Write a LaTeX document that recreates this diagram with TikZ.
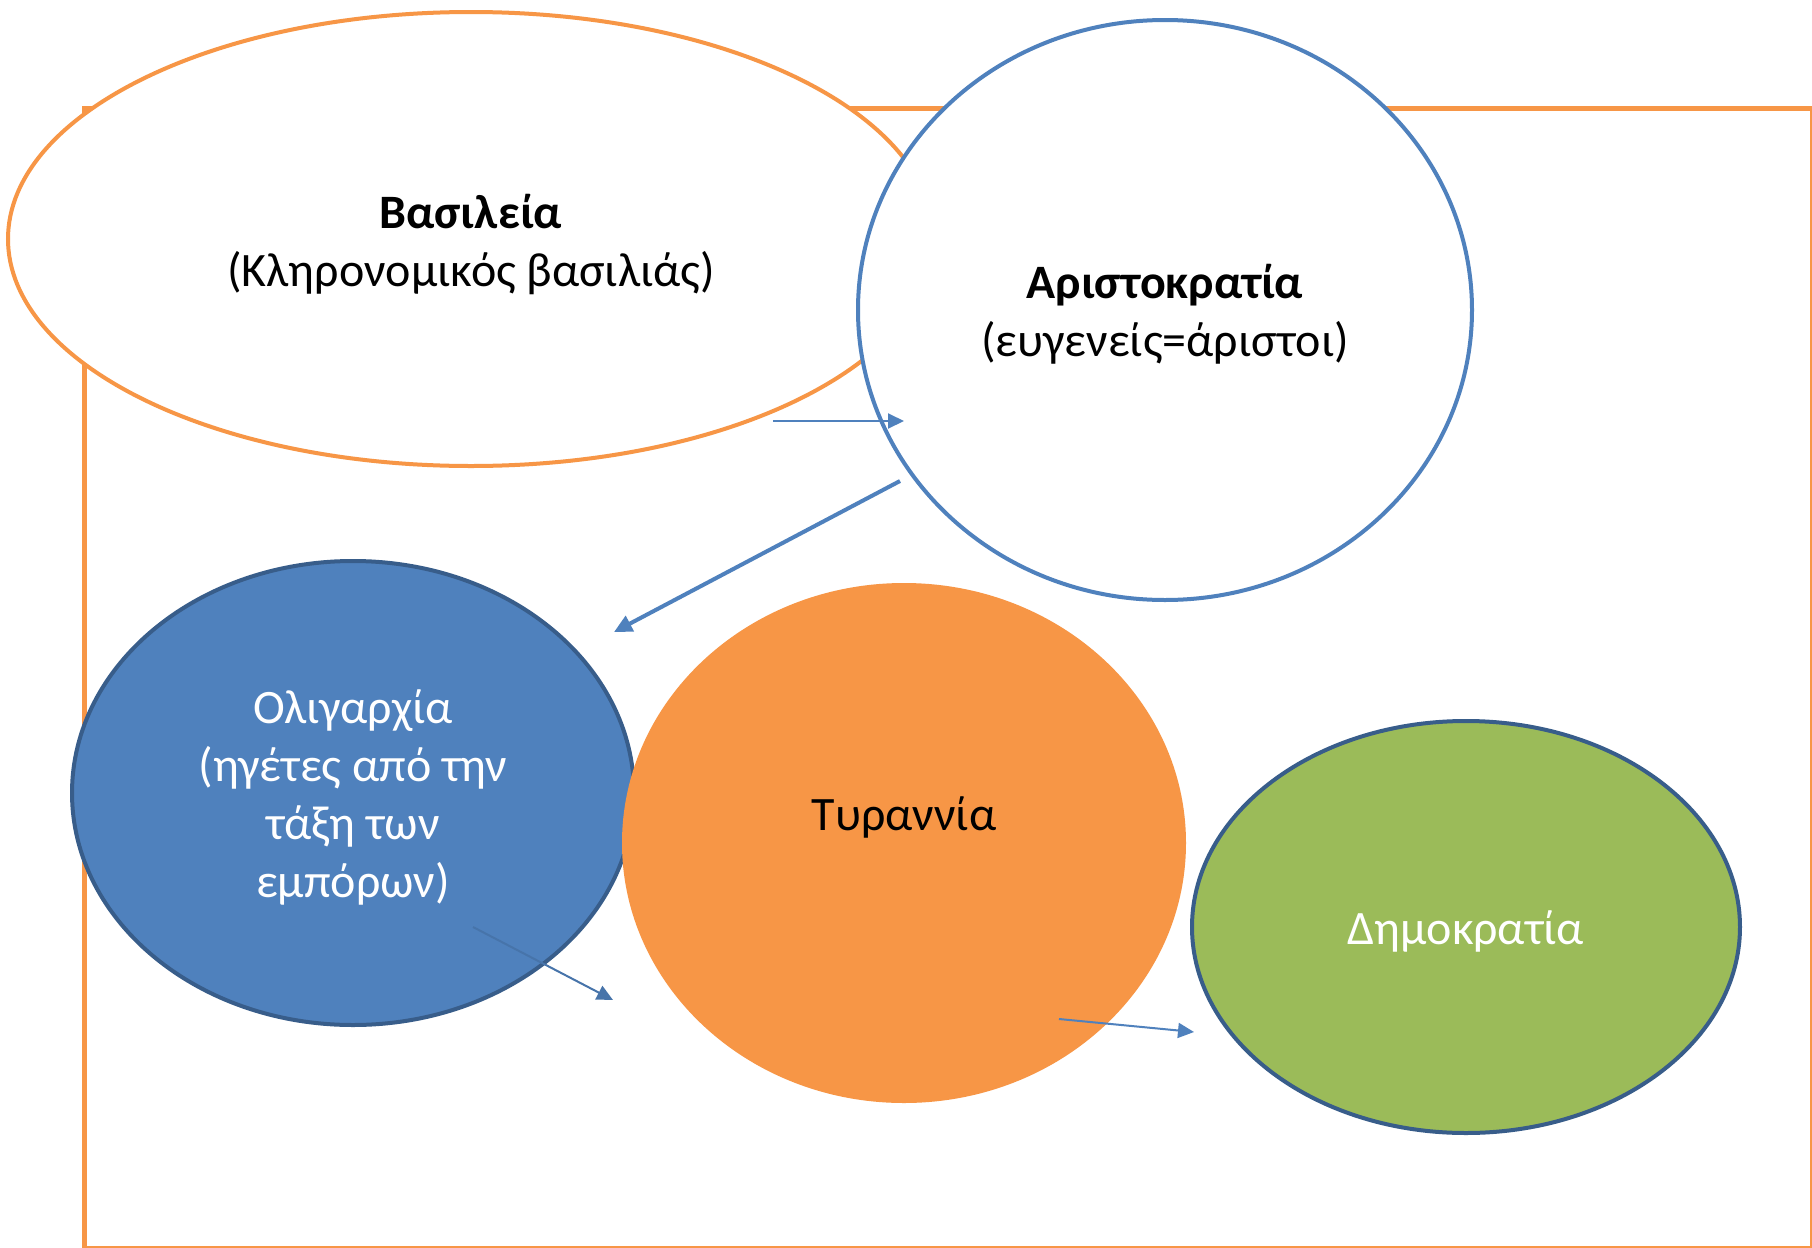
\documentclass[tikz,border=0pt]{standalone}
\usepackage{fontspec}
\setmainfont{Carlito}
\usetikzlibrary{shapes.geometric,arrows.meta}
\definecolor{corange}{HTML}{F79646}
\definecolor{cblue}{HTML}{4F81BD}
\definecolor{cdblue}{HTML}{385D8A}
\definecolor{cgreen}{HTML}{9BBB59}
\tikzset{
  bubble/.style={ellipse, inner sep=0pt, align=center, font=\fontsize{24pt}{29pt}\selectfont},
  conn/.style={draw=cblue, line width=1pt, -{Triangle[length=8pt,width=7.5pt]}},
  lbl/.style={align=center, font=\fontsize{24pt}{29pt}\selectfont}
}
\begin{document}
\begin{tikzpicture}[x=0.5pt,y=-0.5pt]
\useasboundingbox (0,0) rectangle (1812,1248);
\fill[white] (0,0) rectangle (1812,1248);
\draw[corange, line width=2.5pt] (84,108) rectangle (1812,1248);
\node[bubble, draw=corange, fill=white, line width=2pt, minimum width=463pt, minimum height=227pt] (bas) at (471,239) {};
\node[lbl] (bast) at (471,244) {\textbf{Βασιλεία}\\(Κληρονομικός βασιλιάς)};
\node[bubble, draw=cblue, fill=white, line width=2pt, minimum width=307pt, minimum height=290pt] (ari) at (1165,310) {};
\node[lbl] (arit) at (1165,314) {\textbf{Αριστοκρατία}\\(ευγενείς=άριστοι)};
\coordinate (a1s) at (773,421);
\coordinate (a1e) at (904,421);
\draw[conn] (a1s) -- (a1e);
\node[bubble, draw=cdblue, fill=cblue, line width=2pt, text=white, minimum width=281pt, minimum height=232pt] (oli) at (353,793) {};
\node[lbl, text=white] (olit) at (353,797) {Ολιγαρχία\\(ηγέτες από την\\τάξη των\\εμπόρων)};
\node[bubble, fill=corange, minimum width=282pt, minimum height=260pt] (tyr) at (904,843) {};
\node[lbl] (tyrt) at (904,817) {Τυραννία};
\node[bubble, draw=cdblue, fill=cgreen, line width=2pt, text=white, minimum width=274pt, minimum height=206pt] (dem) at (1466,927) {};
\node[lbl, text=white] (demt) at (1466,931) {Δημοκρατία};
\coordinate (a2s) at (900,481);
\coordinate (a2e) at (614,632);
\draw[conn, line width=2pt, -{Triangle[length=9pt,width=8.5pt]}] (a2s) -- (a2e);
\coordinate (a3s) at (473,927);
\coordinate (a3e) at (613,1000);
\draw[conn, draw=cblue!90!black] (a3s) -- (a3e);
\coordinate (a4s) at (1059,1019);
\coordinate (a4e) at (1194,1032);
\draw[conn] (a4s) -- (a4e);
\end{tikzpicture}
\end{document}
